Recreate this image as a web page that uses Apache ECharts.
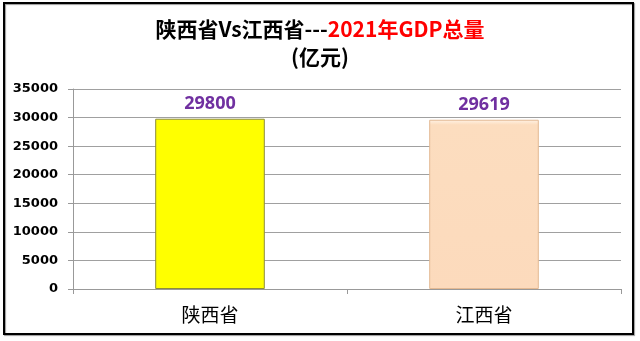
<!DOCTYPE html>
<html>
<head>
<meta charset="utf-8">
<script src="https://cdn.jsdelivr.net/npm/echarts@6/dist/echarts.min.js"></script>
<style>
html,body{margin:0;padding:0;background:#fff;}
#c{width:640px;height:341px;}
</style>
</head>
<body>
<div id="c"></div>
<script>
const categories = ['陕西省', '江西省'];
const gdpValues = [29800, 29619];
const yTicks = [0, 5000, 10000, 15000, 20000, 25000, 30000, 35000];
const titleParts = ['陕西省Vs江西省---', '2021年GDP总量', '(亿元)'];

const chart = echarts.init(document.getElementById('c'), null, {renderer: 'canvas'});
const barColors = [
  {color: '#FFFF00', borderColor: '#8C8C3C'},
  {color: new echarts.graphic.LinearGradient(0, 0, 0, 1, [
    {offset: 0, color: '#FFF3E6'},
    {offset: 0.03, color: '#FCDDBF'},
    {offset: 1, color: '#FCDABC'}
  ]), borderColor: '#E3B993'}
];
const titleFont = {fontFamily: 'Noto Sans CJK SC', fontWeight: 'bold', fontSize: 21};
chart.setOption({
  animation: false,
  graphic: [{
    type: 'rect',
    shape: {x: 4, y: 3, width: 629, height: 331},
    style: {fill: 'none', stroke: '#000', lineWidth: 2, shadowColor: 'rgba(0,0,0,0.4)', shadowOffsetX: 1, shadowOffsetY: 1, shadowBlur: 1},
    z: 100
  }, {
    type: 'text',
    x: 320, y: 29,
    style: {
      text: '{a|' + titleParts[0] + '}{b|' + titleParts[1] + '}',
      align: 'center', verticalAlign: 'middle',
      rich: {
        a: Object.assign({fill: '#000'}, titleFont),
        b: Object.assign({fill: '#FF0000'}, titleFont)
      }
    }
  }, {
    type: 'text',
    x: 320, y: 57,
    style: Object.assign({text: titleParts[2], align: 'center', verticalAlign: 'middle', fill: '#000'}, titleFont)
  }],
  grid: {left: 73, right: 19, top: 89, bottom: 52},
  xAxis: {
    type: 'category',
    data: categories,
    axisLine: {lineStyle: {color: '#999', width: 1}},
    axisTick: {show: true, alignWithLabel: false, length: 5, lineStyle: {color: '#999'}},
    axisLabel: {fontFamily: 'Noto Sans CJK SC', fontSize: 19, color: '#000', margin: 16}
  },
  yAxis: {
    type: 'value',
    min: 0, max: 35000, interval: 5000,
    axisLine: {show: true, lineStyle: {color: '#999'}},
    axisTick: {show: true, length: 5, lineStyle: {color: '#999'}},
    splitLine: {lineStyle: {color: '#A0A0A0'}},
    axisLabel: {fontFamily: 'DejaVu Sans', fontWeight: 'bold', fontSize: 13, color: '#000', margin: 15,
      formatter: v => yTicks.includes(v) ? String(v) : ''}
  },
  series: [{
    type: 'bar',
    barWidth: '40%',
    data: gdpValues.map((v, i) => ({value: v, itemStyle: {color: barColors[i].color, borderColor: barColors[i].borderColor, borderWidth: 1}})),
    label: {show: true, position: 'top', distance: 6, color: '#7030A0', fontWeight: 'bold', fontSize: 18, fontFamily: 'Open Sans'}
  }]
});
</script>
</body>
</html>
